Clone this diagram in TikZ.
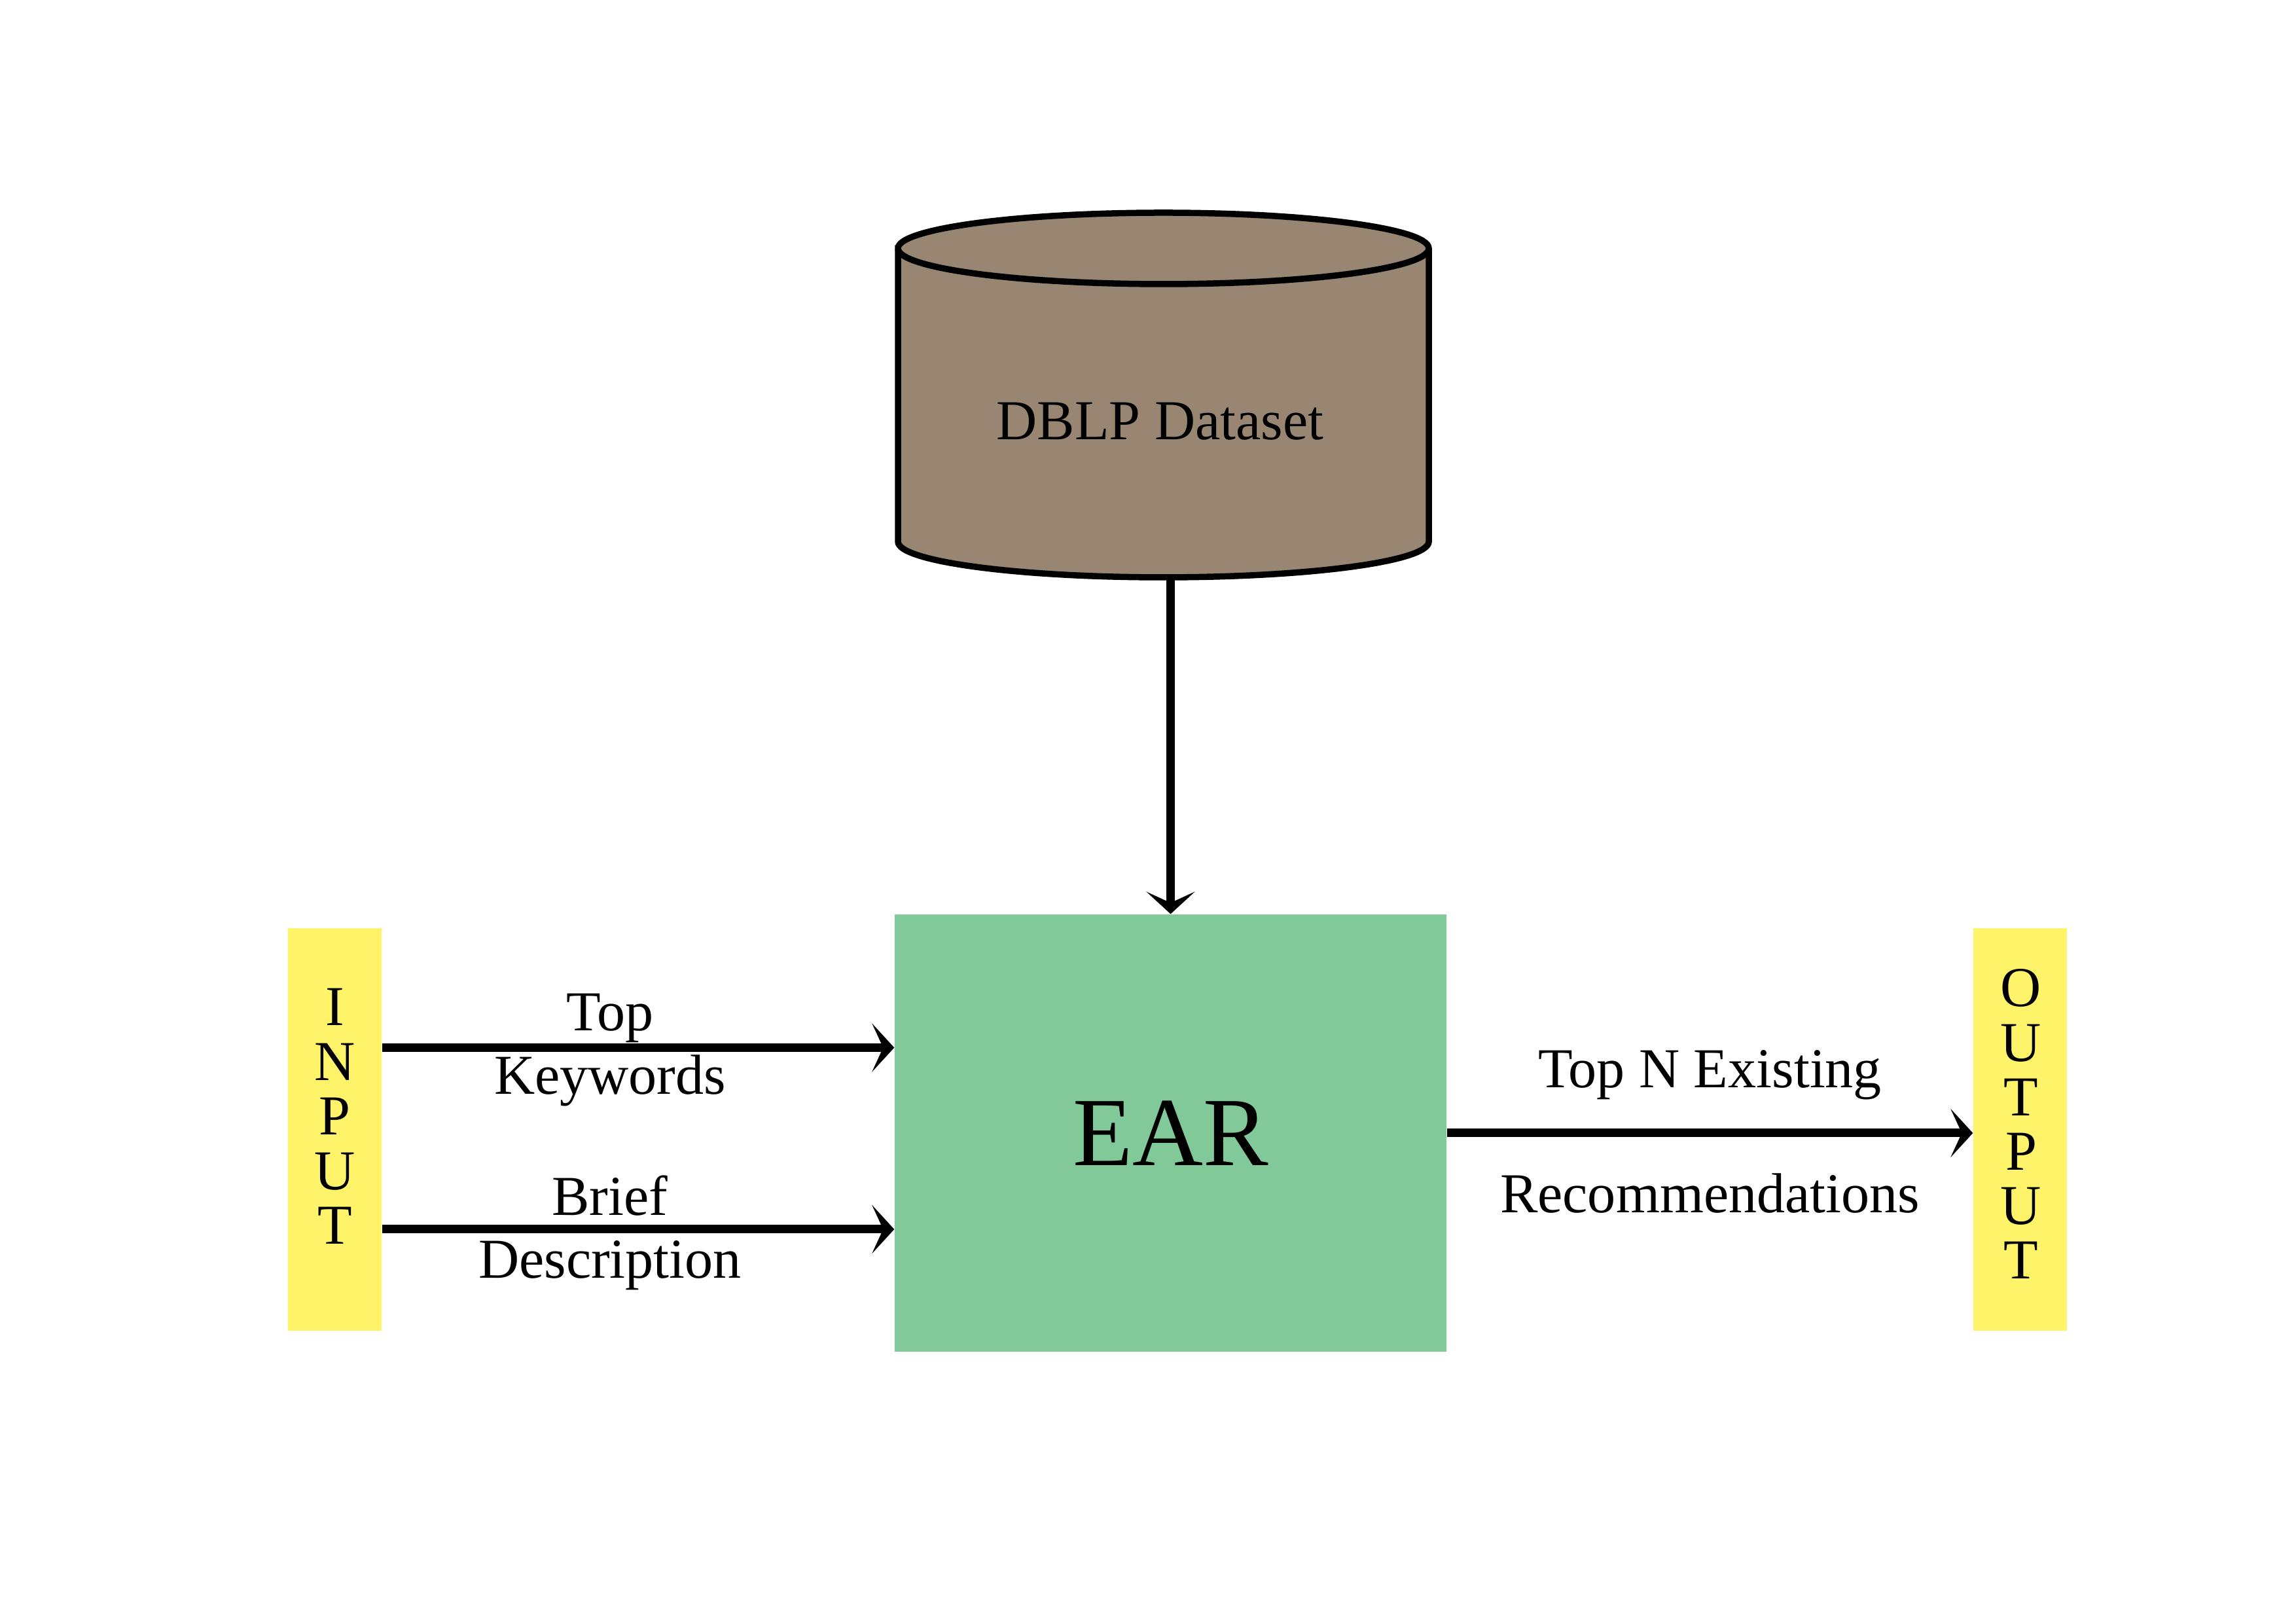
\documentclass[tikz,border=0pt]{standalone}
\usepackage{fontspec}
\setmainfont{Liberation Serif}
\usepackage{tikz}
\usetikzlibrary{fit}
\usetikzlibrary{arrows.meta}
\definecolor{dbbrown}{RGB}{152,134,115}
\definecolor{eargreen}{RGB}{130,201,154}
\definecolor{ioyellow}{RGB}{255,243,106}

\tikzset{
	txt/.style={font=\fontsize{24.5}{24.5}\selectfont, inner sep=0pt, anchor=base},
	flow/.style={line width=1.3mm, -{Stealth[length=3.4mm, width=7.4mm, inset=1.7mm]}},
}

\begin{document}
\begin{tikzpicture}
	\useasboundingbox (0,0) rectangle (35.08,24.80);

	\filldraw[line width=.95mm, fill=dbbrown] (13.72,21.005) -- (13.72,16.525) arc[start angle=180, end angle=360, x radius=4.055, y radius=.545] -- (21.83,21.005) arc[start angle=0, end angle=180, x radius=4.055, y radius=.545] -- cycle;	% Dataset
	\draw[line width=.95mm] (13.72,21.005) arc[start angle=180, end angle=360, x radius=4.055, y radius=.545];
	\node[fit={(13.72,15.98) (21.83,21.55)}, inner sep=0pt] (db) {};
	\node[txt] (dbname) at (17.725,18.08) {DBLP Dataset};

	\node[fit={(13.67,4.15) (22.10,10.83)}, inner sep=0pt, fill=eargreen, label={[font=\fontsize{42.5}{42.5}\selectfont]center:EAR}] (ear) {};	% EAR

	\node[fit={(4.40,4.47) (5.83,10.62)}, inner sep=0pt, fill=ioyellow] (inp) {};	% Input
	\foreach \ch [count=\k from 0] in {I,N,P,U,T}
		\node[txt] (inp\k) at (5.115,{9.13-\k*0.835}) {\ch};
	\node[fit={(30.15,4.47) (31.58,10.62)}, inner sep=0pt, fill=ioyellow] (outp) {};	% Output
	\foreach \ch [count=\k from 0] in {O,U,T,P,U,T}
		\node[txt] (outp\k) at (30.88,{9.42-\k*0.832}) {\ch};

	\coordinate (kw) at (0,8.795);
	\coordinate (bd) at (0,6.02);
	\draw[flow] (db.south -| ear.north) -- (ear.north);	% Arrows
	\draw[flow] (inp.east |- kw) -- node[txt, pos=.445, yshift=2.55mm] (toplbl) {Top} node[txt, pos=.445, yshift=-7.15mm] (kwlbl) {Keywords} (ear.west |- kw);
	\draw[flow] (inp.east |- bd) -- node[txt, pos=.445, yshift=2.1mm] (brieflbl) {Brief} node[txt, pos=.445, yshift=-7.5mm] (desclbl) {Description} (ear.west |- bd);
	\draw[flow] (ear.east) -- node[txt, pos=.5, yshift=6.9mm] (existlbl) {Top N Existing} node[txt, pos=.5, yshift=-12.2mm] (reclbl) {Recommendations} (outp.west |- ear.east);
\end{tikzpicture}
\end{document}
